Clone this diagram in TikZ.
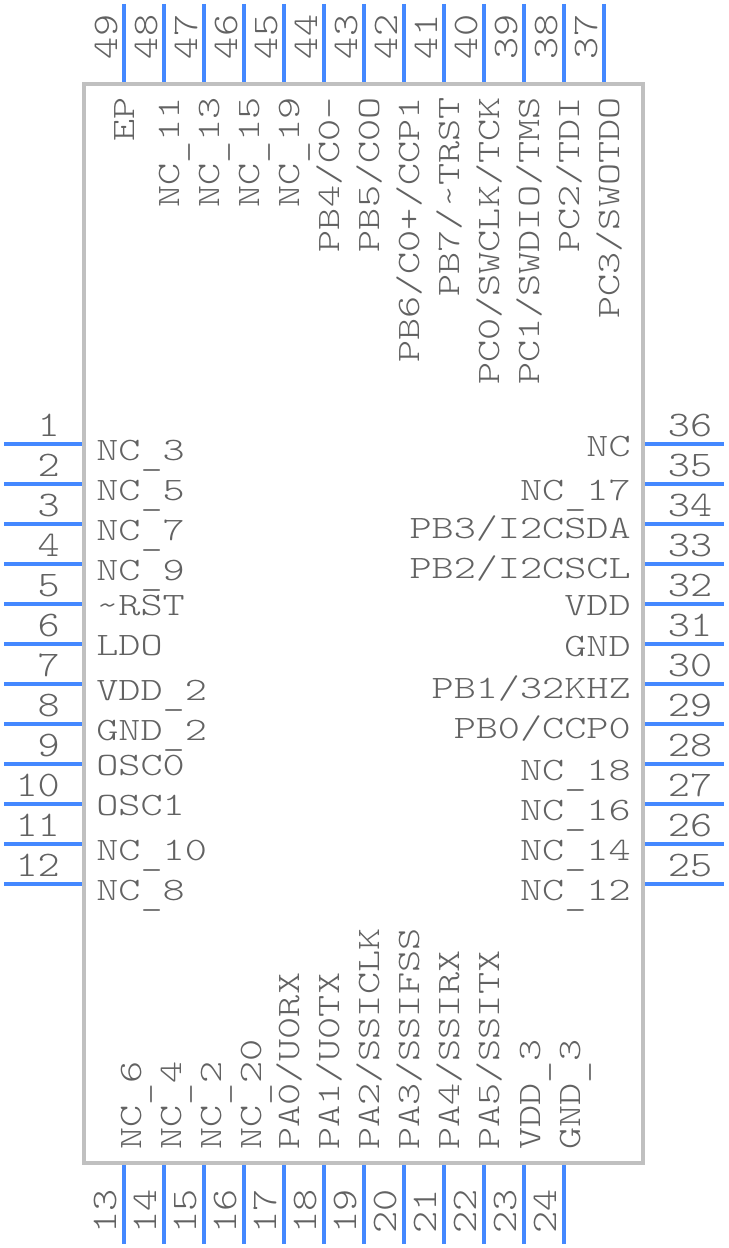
\documentclass[tikz,border=0pt]{standalone}
\usepackage{fontspec}
\newfontfamily\pinfont[FakeStretch=1.29,Extension=.otf]{lmmonolt10-regular}
\newfontfamily\numfont[FakeStretch=1.17,Extension=.otf]{lmmonolt10-regular}
\newcommand{\us}{\raisebox{-4pt}{\_}}
\definecolor{bodygray}{RGB}{192,192,192}
\definecolor{pinblue}{RGB}{68,136,255}
\definecolor{textgray}{RGB}{98,98,98}
\tikzset{
  body/.style={draw=bodygray,line width=3pt},
  pin/.style={draw=pinblue,line width=3pt},
  txt/.style={inner sep=0pt,text=textgray,font=\fontsize{24.5}{24.5}\pinfont},
  numtxt/.style={inner sep=0pt,text=textgray,font=\fontsize{27}{27}\numfont},
  numl/.style={numtxt,anchor=base east},
  numc/.style={numtxt,anchor=base},
  numv/.style={numtxt,anchor=base,rotate=90},
  namel/.style={txt,anchor=base west},
  namer/.style={txt,anchor=base east},
  namet/.style={txt,anchor=base east,rotate=90},
  nameb/.style={txt,anchor=base west,rotate=90},
}
\begin{document}
\begin{tikzpicture}[x=0.75pt,y=0.75pt,yscale=-1,xscale=1]
\useasboundingbox (0,0) rectangle (728,1248);

%Body
\draw [body] (84,84) rectangle (643,1163);

%Left pins
\foreach \y in {444,484,...,884} \draw [pin] (4,\y) -- (82,\y);
%Right pins
\foreach \y in {444,484,...,884} \draw [pin] (645,\y) -- (724,\y);
%Top pins
\foreach \x in {124,164,...,604} \draw [pin] (\x,4) -- (\x,82);
%Bottom pins
\foreach \x in {124,164,...,564} \draw [pin] (\x,1165) -- (\x,1244);

% Left numbers
\node [numl] (n1) at (60,436) {1};
\node [numl] (n2) at (60,476) {2};
\node [numl] (n3) at (60,516) {3};
\node [numl] (n4) at (60,556) {4};
\node [numl] (n5) at (60,596) {5};
\node [numl] (n6) at (60,636) {6};
\node [numl] (n7) at (60,676) {7};
\node [numl] (n8) at (60,716) {8};
\node [numl] (n9) at (60,756) {9};
\node [numl] (n10) at (60,796) {10};
\node [numl] (n11) at (60,836) {11};
\node [numl] (n12) at (60,876) {12};

% Left names
\node [namel] (NC3) at (96,460) {NC\us 3};
\node [namel] (NC5) at (96,500) {NC\us 5};
\node [namel] (NC7) at (96,540) {NC\us 7};
\node [namel] (NC9) at (96,580) {NC\us 9};
\node [namel] (RST) at (96,615) {\textasciitilde RST};
\node [namel] (LDO) at (96,655) {LDO};
\node [namel] (VDD2) at (96,700) {VDD\us 2};
\node [namel] (GND2) at (96,740) {GND\us 2};
\node [namel] (OSC0) at (96,775) {OSC0};
\node [namel] (OSC1) at (96,815) {OSC1};
\node [namel] (NC10) at (96,860) {NC\us 10};
\node [namel] (NC8) at (96,900) {NC\us 8};

% Right numbers
\node [numc] (n36) at (690,436) {36};
\node [numc] (n35) at (690,476) {35};
\node [numc] (n34) at (690,516) {34};
\node [numc] (n33) at (690,556) {33};
\node [numc] (n32) at (690,596) {32};
\node [numc] (n31) at (690,636) {31};
\node [numc] (n30) at (690,676) {30};
\node [numc] (n29) at (690,716) {29};
\node [numc] (n28) at (690,756) {28};
\node [numc] (n27) at (690,796) {27};
\node [numc] (n26) at (690,836) {26};
\node [numc] (n25) at (690,876) {25};

% Right names
\node [namer] (NC) at (631,456) {NC};
\node [namer] (NC17) at (631,500) {NC\us 17};
\node [namer] (PB3) at (631,538) {PB3/I2CSDA};
\node [namer] (PB2) at (631,578) {PB2/I2CSCL};
\node [namer] (VDD) at (631,615) {VDD};
\node [namer] (GND) at (631,656) {GND};
\node [namer] (PB1) at (631,698) {PB1/32KHZ};
\node [namer] (PB0) at (631,738) {PB0/CCP0};
\node [namer] (NC18) at (631,780) {NC\us 18};
\node [namer] (NC16) at (631,820) {NC\us 16};
\node [namer] (NC14) at (631,860) {NC\us 14};
\node [namer] (NC12) at (631,900) {NC\us 12};

% Top numbers
\node [numv] (n49) at (117,37) {49};
\node [numv] (n48) at (157,37) {48};
\node [numv] (n47) at (197,37) {47};
\node [numv] (n46) at (237,37) {46};
\node [numv] (n45) at (277,37) {45};
\node [numv] (n44) at (317,37) {44};
\node [numv] (n43) at (357,37) {43};
\node [numv] (n42) at (397,37) {42};
\node [numv] (n41) at (437,37) {41};
\node [numv] (n40) at (477,37) {40};
\node [numv] (n39) at (517,37) {39};
\node [numv] (n38) at (557,37) {38};
\node [numv] (n37) at (597,37) {37};

% Top names
\node [namet] (EP) at (134,97) {EP};
\node [namet] (NC11) at (179,97) {NC\us 11};
\node [namet] (NC13) at (219,97) {NC\us 13};
\node [namet] (NC15) at (259,97) {NC\us 15};
\node [namet] (NC19) at (299,97) {NC\us 19};
\node [namet] (PB4) at (339,97) {PB4/C0-};
\node [namet] (PB5) at (379,97) {PB5/C0O};
\node [namet] (PB6) at (419,97) {PB6/C0+/CCP1};
\node [namet] (PB7) at (459,97) {PB7/\textasciitilde TRST};
\node [namet] (PC0) at (499,97) {PC0/SWCLK/TCK};
\node [namet] (PC1) at (539,97) {PC1/SWDIO/TMS};
\node [namet] (PC2) at (579,97) {PC2/TDI};
\node [namet] (PC3) at (619,97) {PC3/SWOTDO};

% Bottom numbers
\node [numv] (n13) at (116,1211) {13};
\node [numv] (n14) at (156,1211) {14};
\node [numv] (n15) at (196,1211) {15};
\node [numv] (n16) at (236,1211) {16};
\node [numv] (n17) at (276,1211) {17};
\node [numv] (n18) at (316,1211) {18};
\node [numv] (n19) at (356,1211) {19};
\node [numv] (n20) at (396,1211) {20};
\node [numv] (n21) at (436,1211) {21};
\node [numv] (n22) at (476,1211) {22};
\node [numv] (n23) at (516,1211) {23};
\node [numv] (n24) at (556,1211) {24};

% Bottom names
\node [nameb] (NC6) at (141,1150) {NC\us 6};
\node [nameb] (NC4) at (181,1150) {NC\us 4};
\node [nameb] (NC2) at (221,1150) {NC\us 2};
\node [nameb] (NC20) at (261,1150) {NC\us 20};
\node [nameb] (PA0) at (299,1150) {PA0/U0RX};
\node [nameb] (PA1) at (339,1150) {PA1/U0TX};
\node [nameb] (PA2) at (379,1150) {PA2/SSICLK};
\node [nameb] (PA3) at (419,1150) {PA3/SSIFSS};
\node [nameb] (PA4) at (459,1150) {PA4/SSIRX};
\node [nameb] (PA5) at (499,1150) {PA5/SSITX};
\node [nameb] (VDD3) at (540,1150) {VDD\us 3};
\node [nameb] (GND3) at (580,1150) {GND\us 3};
\end{tikzpicture}
\end{document}
